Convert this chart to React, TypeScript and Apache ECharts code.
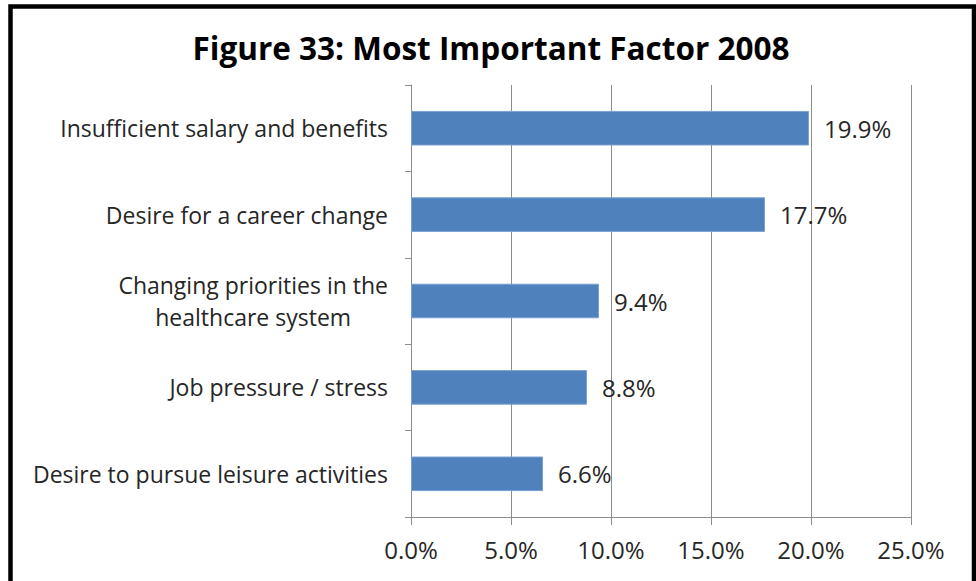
import React, { useEffect, useRef } from "react";
import * as echarts from "echarts";

const categories = [
  "Insufficient salary and benefits",
  "Desire for a career change",
  "Changing priorities in the\nhealthcare system",
  "Job pressure / stress",
  "Desire to pursue leisure activities",
];
const values = [19.9, 17.7, 9.4, 8.8, 6.6];
const xTicks = { min: 0, max: 25, interval: 5 };
const titleText = "Figure 33: Most Important Factor 2008";

const FONT = "Open Sans";

export default function App() {
  const ref = useRef<HTMLDivElement>(null);
  useEffect(() => {
    if (!ref.current) return;
    const chart = echarts.init(ref.current, null, { renderer: "svg" });
    chart.setOption({
      animation: false,
      backgroundColor: "#ffffff",
      title: {
        text: titleText,
        left: 486,
        textAlign: "center",
        top: 26,
        textStyle: { fontFamily: FONT, fontWeight: "bold", fontSize: 31.5, color: "#000" },
      },
      graphic: [
        {
          type: "rect",
          shape: { x: 10.5, y: 6.5, width: 963.5, height: 620 },
          style: { fill: "none", stroke: "#000", lineWidth: 4.5 },
          silent: true,
        },
      ],
      grid: { left: 411, right: 65, top: 85, bottom: 64 },
      xAxis: {
        type: "value",
        min: xTicks.min,
        max: xTicks.max,
        interval: xTicks.interval,
        axisLine: { show: true, lineStyle: { color: "#8c8c8c", width: 1 } },
        axisTick: { show: true, length: 8, lineStyle: { color: "#8c8c8c" } },
        splitLine: { show: true, lineStyle: { color: "#8c8c8c", width: 1 } },
        axisLabel: {
          margin: 20,
          fontFamily: FONT,
          fontSize: 24,
          color: "#262626",
          formatter: (v: number) => v.toFixed(1) + "%",
        },
      },
      yAxis: {
        type: "category",
        data: categories,
        inverse: true,
        axisLine: { show: true, lineStyle: { color: "#8c8c8c", width: 1 } },
        axisTick: { show: true, length: 6, interval: 0, lineStyle: { color: "#8c8c8c" } },
        axisLabel: {
          margin: 23,
          interval: 0,
          fontFamily: FONT,
          fontSize: 23,
          color: "#262626",
          lineHeight: 32,
          formatter: (v: string) =>
            v
              .split("\n")
              .map((s) => "{c|" + s + "}")
              .join("\n"),
          rich: {
            c: { align: "center", fontFamily: FONT, fontSize: 23, color: "#262626", lineHeight: 32 },
          },
        },
      },
      series: [
        {
          type: "bar",
          data: values,
          barCategoryGap: "60%",
          itemStyle: { color: "#4f81bd", borderColor: "#7a9fd0", borderWidth: 1 },
          label: {
            show: true,
            position: "right",
            distance: 15,
            fontFamily: FONT,
            fontSize: 24,
            color: "#262626",
            formatter: (p: any) => p.value.toFixed(1) + "%",
          },
        },
      ],
    });
    return () => chart.dispose();
  }, []);
  return (
    <div
      ref={ref}
      style={{ position: "absolute", left: 0, top: 0, width: 976, height: 581 }}
    />
  );
}
